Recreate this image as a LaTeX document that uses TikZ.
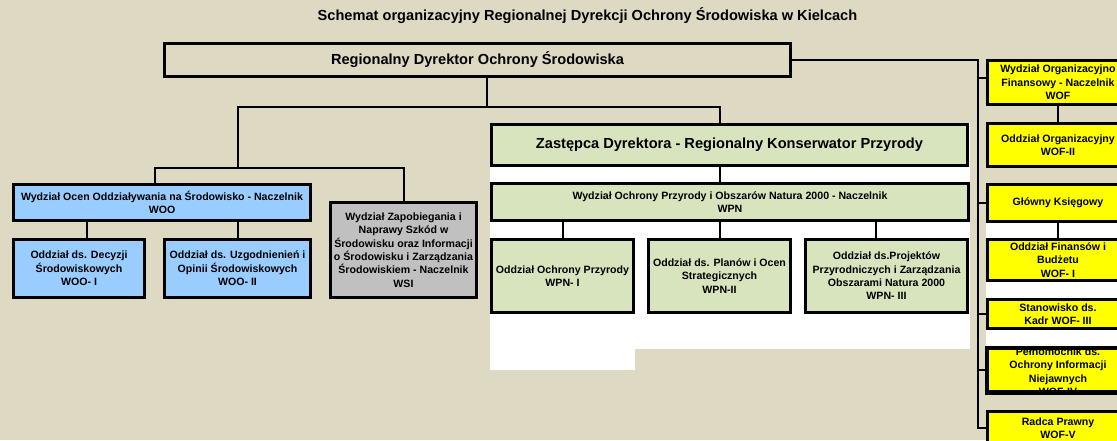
\documentclass[tikz,border=0pt]{standalone}
\usepackage{fontspec}
\setmainfont{Liberation Sans}
\definecolor{bgtan}{HTML}{DDD9C3}
\definecolor{boxblue}{HTML}{99CCFF}
\definecolor{boxgrey}{HTML}{C0C0C0}
\definecolor{boxgreen}{HTML}{D7E4BD}
\definecolor{boxyellow}{HTML}{FFFF00}
\begin{document}
\begin{tikzpicture}[x=1pt,y=-1pt,
  box/.style={draw=black, line width=3pt, inner sep=0pt, align=center,
    font=\bfseries\fontsize{10.6}{13.4}\selectfont},
  bigtext/.style={font=\bfseries\fontsize{14.6}{17}\selectfont},
  conn/.style={line width=2pt, line cap=rect},
  bluebox/.style={box, fill=boxblue},
  greenbox/.style={box, fill=boxgreen},
  yellowbox/.style={box, fill=boxyellow, minimum width=141pt},
  greybox/.style={box, fill=boxgrey}]
\useasboundingbox (0,0) rectangle (1117,440);
\clip (0,0) rectangle (1117,440);
\fill[bgtan] (0,0) rectangle (1117,440);
\fill[white] (490,123) rectangle (970,349);
\fill[white] (490,349) rectangle (635,370);
\fill[white] (986,223) rectangle (1130,347);

% title
\node[bigtext, inner sep=0pt] (title) at (587.5,16) {Schemat organizacyjny Regionalnej Dyrekcji Ochrony Środowiska w Kielcach};

% boxes
\node[box, bigtext, minimum width=626pt, minimum height=33pt] (top) at (477.5,60) {Regionalny Dyrektor Ochrony Środowiska};

\node[bluebox, minimum width=297pt, minimum height=36pt] (woo) at (162,202.5) {Wydział Ocen Oddziaływania na Środowisko - Naczelnik\\WOO};
\node[bluebox, minimum width=131pt, minimum height=58pt] (dec) at (79,268.5) {Oddział ds. Decyzji\\Środowiskowych\\WOO- I};
\node[bluebox, minimum width=146pt, minimum height=58pt] (uzg) at (237.5,268.5) {Oddział ds. Uzgodnienień i\\Opinii Środowiskowych\\WOO- II};
\node[greybox, minimum width=146pt, minimum height=95pt] (wsi) at (403.5,250) {Wydział Zapobiegania i\\Naprawy Szkód w\\Środowisku oraz Informacji\\o Środowisku i Zarządzania\\Środowiskiem - Naczelnik\\WSI};

\node[greenbox, bigtext, minimum width=476pt, minimum height=41pt] (zas) at (729.5,145) {Zastępca Dyrektora - Regionalny Konserwator Przyrody};
\node[greenbox, minimum width=477pt, minimum height=37pt] (wpn) at (730,202) {Wydział Ochrony Przyrody i Obszarów Natura 2000 - Naczelnik\\WPN};
\node[greenbox, minimum width=142pt, minimum height=73pt] (p1) at (562.5,276) {Oddział Ochrony Przyrody\\WPN- I};
\node[greenbox, minimum width=142pt, minimum height=73pt] (p2) at (719.5,276) {Oddział ds. Planów i Ocen\\Strategicznych\\WPN-II};
\node[greenbox, minimum width=162pt, minimum height=73pt] (p3) at (886.5,276) {Oddział ds.Projektów\\Przyrodniczych i Zarządzania\\Obszarami Natura 2000\\WPN- III};

\node[yellowbox, minimum height=44pt] (wof) at (1058,82.5) {Wydział Organizacyjno\\Finansowy - Naczelnik\\WOF};
\node[yellowbox, minimum height=43pt] (org) at (1058,145) {Oddział Organizacyjny\\WOF-II};
\node[yellowbox, minimum height=37pt] (gk) at (1058,203) {Główny Księgowy};
\node[yellowbox, minimum height=41pt] (fin) at (1058,260) {Oddział Finansów i\\Budżetu\\WOF- I};
\node[yellowbox, minimum height=29pt] (kadr) at (1058,314) {Stanowisko ds.\\Kadr WOF- III};
\node[yellowbox, minimum height=43pt] (pel) at (1058,370) {};
\begin{scope}
  \clip (pel.north west) rectangle (pel.south east);
  \node[align=center, inner sep=0pt, font=\bfseries\fontsize{10.6}{13.5}\selectfont] (peltext) at (1058,371.5) {Pełnomocnik ds.\\Ochrony Informacji\\Niejawnych\\WOF-IV};
\end{scope}
\draw[line width=3pt] (pel.north west) rectangle (pel.south east);
\node[yellowbox, minimum height=33pt] (radca) at (1058,428) {Radca Prawny\\WOF-V};

% junction coordinates
\coordinate (jA) at (487,107);
\coordinate (jL) at (238,107);
\coordinate (jR) at (720,107);
\coordinate (jL2) at (238,168);
\coordinate (jWOO) at (155,168);
\coordinate (jWSI) at (404,168);
\coordinate (c87) at (87,230);
\coordinate (c876) at (876,230);
\coordinate (sp0) at (978,60);
\coordinate (sp1) at (978,428);
\coordinate (b1) at (978,78);

% connectors (drawn on background layer effect: re-drawn boxes not needed since ends meet edges)
\begin{scope}[conn]
  \draw (top.south -| jA) -- (jA);
  \draw (jL) -- (jR);
  \draw (jR) -- (zas.north -| jR);
  \draw (jL) -- (jL2);
  \draw (jWOO) -- (jWSI);
  \draw (jWOO) -- (woo.north -| jWOO);
  \draw (jWSI) -- (wsi.north -| jWSI);
  \draw (woo.south -| c87) -- (dec.north -| c87);
  \draw (woo.south -| uzg.north) -- (uzg.north);
  \draw (zas.south -| jR) -- (wpn.north -| jR);
  \draw (wpn.south -| p1.north) -- (p1.north);
  \draw (wpn.south -| jR) -- (p2.north -| jR);
  \draw (wpn.south -| c876) -- (p3.north -| c876);
  \draw (top.east) -- (sp0) -- (sp1);
  \draw (b1) -- (b1 -| wof.west);
  \draw (gk.west -| sp0) -- (gk.west);
  \draw (kadr.west -| sp0) -- (kadr.west);
  \draw (pel.west -| sp0) -- (pel.west);
  \draw (radca.west -| sp0) -- (radca.west);
  \draw (wof.south) -- (org.north);
  \draw (gk.south) -- (fin.north);
\end{scope}
\end{tikzpicture}
\end{document}
